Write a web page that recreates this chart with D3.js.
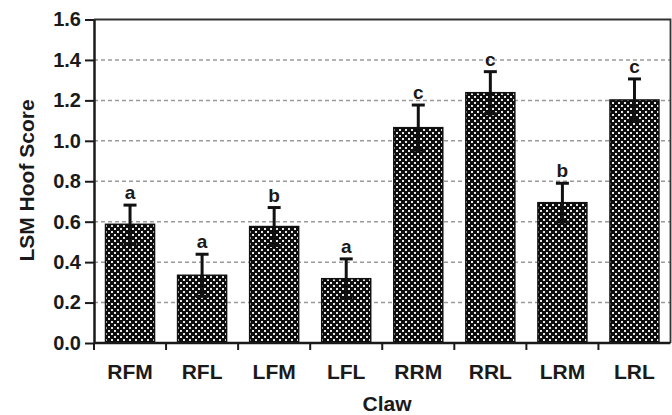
<!doctype html>
<html lang="en">
    <head>
        <meta charset="utf-8">
        <title>LSM Hoof Score by Claw</title>
        <script type="text/javascript" src="https://cdn.jsdelivr.net/npm/d3@7"></script>
        <style>
            body { margin: 0; background: #fff; }
            text { font-family: "Liberation Sans", Arial, sans-serif; font-weight: bold; fill: #1a1a1a; }
        </style>
    </head>
    <body>
        <script type="text/javascript">

            var claws   = ["RFM", "RFL", "LFM", "LFL", "RRM", "RRL", "LRM", "LRL"];
            var scores  = [0.587, 0.335, 0.576, 0.318, 1.065, 1.238, 0.694, 1.202];
            var errors  = [0.095, 0.104, 0.094, 0.098, 0.112, 0.104, 0.096, 0.104];
            var letters = ["a", "a", "b", "a", "c", "c", "b", "c"];
            var yTicks  = [0, 0.2, 0.4, 0.6, 0.8, 1.0, 1.2, 1.4, 1.6];

            var svgW = 672;
            var svgH = 415;
            var plot = {left: 94, right: 670.5, top: 19.5, bottom: 343};

            var svg = d3.select("body")
                        .append("svg")
                        .attr("width", svgW)
                        .attr("height", svgH);

            // dotted fill like the original bars
            var pat = svg.append("defs")
                         .append("pattern")
                         .attr("id", "dots")
                         .attr("patternUnits", "userSpaceOnUse")
                         .attr("width", 6)
                         .attr("height", 6);
            pat.append("rect")
               .attr("width", 6)
               .attr("height", 6)
               .attr("fill", "#0d0d0d");
            pat.selectAll("rect.dot")
               .data([[0, 0], [3, 3]])
               .enter()
               .append("rect")
               .attr("class", "dot")
               .attr("x", d => d[0])
               .attr("y", d => d[1])
               .attr("width", 2)
               .attr("height", 2)
               .attr("shape-rendering", "crispEdges")
               .attr("fill", "#e8e8e8");

            var x = d3.scaleBand()
                      .domain(claws)
                      .range([plot.left, plot.right])
                      .paddingInner(0.32)
                      .paddingOuter(0.16);

            var y = d3.scaleLinear()
                      .domain([0, 1.6])
                      .range([plot.bottom, plot.top]);

            // dashed grid
            svg.append("g")
               .selectAll("line")
               .data(yTicks.filter(t => t > 0 && t < 1.6))
               .enter()
               .append("line")
               .attr("x1", plot.left)
               .attr("x2", plot.right)
               .attr("y1", d => y(d))
               .attr("y2", d => y(d))
               .attr("stroke", "#9a9a9a")
               .attr("stroke-width", 1.5)
               .attr("stroke-dasharray", "4,3");

            // frame top + right
            svg.append("path")
               .attr("d", "M" + plot.left + "," + y(1.6) + "H" + plot.right + "V" + plot.bottom)
               .attr("fill", "none")
               .attr("stroke", "#333")
               .attr("stroke-width", 1.8);

            var data = claws.map((c, i) => ({claw: c, score: scores[i], err: errors[i], letter: letters[i]}));

            svg.append("g")
               .selectAll("rect")
               .data(data)
               .enter()
               .append("rect")
               .attr("x", d => x(d.claw))
               .attr("y", d => y(d.score))
               .attr("width", x.bandwidth())
               .attr("height", d => y(0) - y(d.score))
               .attr("fill", "url(#dots)")
               .attr("stroke", "#111")
               .attr("stroke-width", 1.5);

            // error bars
            var eb = svg.append("g")
                        .selectAll("g")
                        .data(data)
                        .enter()
                        .append("g")
                        .attr("stroke", "#111")
                        .attr("stroke-width", 3);
            eb.append("line")
              .attr("x1", d => x(d.claw) + x.bandwidth() / 2)
              .attr("x2", d => x(d.claw) + x.bandwidth() / 2)
              .attr("y1", d => y(d.score - d.err))
              .attr("y2", d => y(d.score + d.err));
            eb.selectAll("line.cap")
              .data(d => [[d, d.score + d.err], [d, d.score - d.err]])
              .enter()
              .append("line")
              .attr("class", "cap")
              .attr("x1", d => x(d[0].claw) + x.bandwidth() / 2 - 6.5)
              .attr("x2", d => x(d[0].claw) + x.bandwidth() / 2 + 6.5)
              .attr("y1", d => y(d[1]))
              .attr("y2", d => y(d[1]));

            // significance letters
            svg.append("g")
               .selectAll("text")
               .data(data)
               .enter()
               .append("text")
               .attr("x", d => x(d.claw) + x.bandwidth() / 2)
               .attr("y", d => y(d.score + d.err) - 6)
               .attr("text-anchor", "middle")
               .style("font-size", "19px")
               .text(d => d.letter);

            // y axis
            var yAxis = svg.append("g")
                           .attr("transform", "translate(" + plot.left + ",0)")
                           .call(d3.axisLeft(y)
                                   .tickValues(yTicks)
                                   .tickFormat(d3.format(".1f"))
                                   .tickSize(9)
                                   .tickSizeOuter(0)
                                   .tickPadding(4));
            yAxis.select(".domain")
                 .attr("stroke", "#1a1a1a")
                 .attr("stroke-width", 2.5);
            yAxis.selectAll(".tick line")
                 .attr("stroke", "#1a1a1a")
                 .attr("stroke-width", 2);
            yAxis.selectAll(".tick text")
                 .style("font-size", "20px")
                 .attr("fill", "#1a1a1a");

            // x axis: baseline, ticks between bars, labels
            var xAxis = svg.append("g");
            xAxis.append("line")
                 .attr("x1", plot.left)
                 .attr("x2", plot.right)
                 .attr("y1", plot.bottom)
                 .attr("y2", plot.bottom)
                 .attr("stroke", "#1a1a1a")
                 .attr("stroke-width", 2.5);
            xAxis.selectAll("line.tick")
                 .data(claws)
                 .enter()
                 .append("line")
                 .attr("class", "tick")
                 .attr("x1", d => x(d) + x.bandwidth() / 2 - x.step() / 2)
                 .attr("x2", d => x(d) + x.bandwidth() / 2 - x.step() / 2)
                 .attr("y1", plot.bottom)
                 .attr("y2", plot.bottom + 7)
                 .attr("stroke", "#1a1a1a")
                 .attr("stroke-width", 2);
            xAxis.selectAll("text")
                 .data(claws)
                 .enter()
                 .append("text")
                 .attr("x", d => x(d) + x.bandwidth() / 2)
                 .attr("y", 379)
                 .attr("text-anchor", "middle")
                 .style("font-size", "21px")
                 .text(d => d);

            // axis titles
            svg.append("text")
               .attr("x", 387)
               .attr("y", 411)
               .attr("text-anchor", "middle")
               .style("font-size", "21px")
               .text("Claw");

            svg.append("text")
               .attr("transform", "translate(34," + 180.5 + ") rotate(-90)")
               .attr("text-anchor", "middle")
               .style("font-size", "21px")
               .text("LSM Hoof Score");
        </script>
    </body>
</html>
